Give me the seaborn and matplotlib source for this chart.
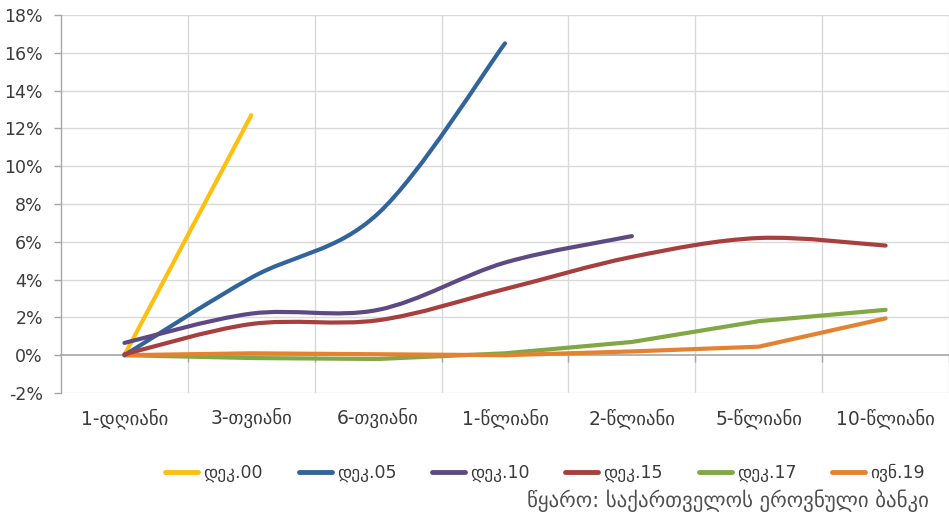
import numpy as np
import pandas as pd
import matplotlib
matplotlib.use("Agg")
import matplotlib.pyplot as plt
from matplotlib.path import Path
from matplotlib.patches import PathPatch
from matplotlib.lines import Line2D
import seaborn as sns

# Yield curve data (%), by maturity
maturities = ["1-დღიანი", "3-თვიანი", "6-თვიანი", "1-წლიანი", "2-წლიანი", "5-წლიანი", "10-წლიანი"]
dec00 = [0.0, 12.7]
dec05 = [0.0, 4.1, 7.5, 16.5]
dec10 = [0.65, 2.2, 2.4, 4.9, 6.3]
dec15 = [0.05, 1.65, 1.85, 3.5, 5.2, 6.2, 5.8]
dec17 = [0.0, -0.15, -0.2, 0.1, 0.7, 1.8, 2.4]
jun19 = [0.0, 0.1, 0.05, 0.0, 0.2, 0.45, 1.95]

series_names = ["დეკ.00", "დეკ.05", "დეკ.10", "დეკ.15", "დეკ.17", "ივნ.19"]
series_values = [dec00, dec05, dec10, dec15, dec17, jun19]
series_colors = ["#FDC010", "#31649B", "#5E4A82", "#A63F3E", "#82A845", "#E5822F"]
series_smooth = [True, True, True, True, False, False]

y_ticks = list(range(-2, 19, 2))
source_text = "წყარო: საქართველოს ეროვნული ბანკი"

sns.set_theme(style="white")
plt.rcParams["font.family"] = ["DejaVu Sans"]
text_color = "#3b3b3b"
grid_color = "#D9D9D9"
axis_color = "#A6A6A6"

fig = plt.figure(figsize=(9.49, 5.19), dpi=100)
ax = fig.add_axes([61 / 949, 1 - 393 / 519, 1 - 61 / 949, (393 - 15) / 519])


def smooth_path(xs, ys):
    """Cubic Bezier path through the points (Catmull-Rom style tangents)."""
    pts = np.column_stack([xs, ys]).astype(float)
    n = len(pts)
    verts = [pts[0]]
    codes = [Path.MOVETO]
    for i in range(n - 1):
        p0 = pts[i - 1] if i > 0 else pts[i]
        p1 = pts[i]
        p2 = pts[i + 1]
        p3 = pts[i + 2] if i + 2 < n else pts[i + 1]
        verts += [p1 + (p2 - p0) / 6, p2 - (p3 - p1) / 6, p2]
        codes += [Path.CURVE4] * 3
    return Path(verts, codes)


# Grid
for y in y_ticks:
    if y != 0:
        ax.axhline(y, color=grid_color, lw=1, zorder=0)
for xb in np.arange(0.5, len(maturities), 1.0):
    ax.axvline(xb, color=grid_color, lw=1, zorder=0)

# Straight-segment series drawn with seaborn
rows = []
for name, vals, smooth in zip(series_names, series_values, series_smooth):
    if not smooth:
        for i, v in enumerate(vals):
            rows.append({"series": name, "pos": i, "value": v})
df = pd.DataFrame(rows)
palette = {n: c for n, c in zip(series_names, series_colors)}
sns.lineplot(data=df, x="pos", y="value", hue="series", palette=palette,
             linewidth=3, legend=False, ax=ax, zorder=3,
             solid_capstyle="round", solid_joinstyle="round")

# Smoothed series
for name, vals, color, smooth in zip(series_names, series_values, series_colors, series_smooth):
    if smooth:
        xs = np.arange(len(vals))
        patch = PathPatch(smooth_path(xs, vals), fill=False, edgecolor=color,
                          lw=3, capstyle="round", joinstyle="round", zorder=3)
        ax.add_patch(patch)

ax.set_xlim(-0.5, len(maturities) - 0.5)
ax.set_ylim(-2, 18)

# Y axis
ax.set_yticks(y_ticks)
ax.set_yticklabels([f"{t}%" for t in y_ticks], fontsize=12.5, color=text_color)
ax.tick_params(axis="y", length=5, width=1, color=axis_color, pad=8, left=True)
ax.set_ylabel("")

# X axis: category labels below the plot, axis line on zero
ax.set_xticks(range(len(maturities)))
ax.set_xticklabels(maturities, fontsize=13.5, color=text_color)
ax.tick_params(axis="x", length=0, pad=11)
ax.set_xlabel("")

for side in ["top", "right", "bottom"]:
    ax.spines[side].set_visible(False)
ax.spines["left"].set_color(axis_color)
ax.spines["left"].set_linewidth(1)

zero_axis = ax.secondary_xaxis(2 / 20)
zero_axis.set_xticks(np.arange(0.5, len(maturities), 1.0))
zero_axis.set_xticklabels([])
zero_axis.tick_params(axis="x", length=5, width=1, color=axis_color, direction="out")
zero_axis.spines["bottom"].set_color(axis_color)
zero_axis.spines["bottom"].set_linewidth(1.2)

# Legend
handles = [Line2D([0], [0], color=c, lw=3.5, solid_capstyle="round") for c in series_colors]
fig.legend(handles, series_names, loc="center", bbox_to_anchor=(545 / 949, 1 - 473 / 519),
           ncol=6, frameon=False, fontsize=12.5, handlelength=1.9, handletextpad=0.3,
           columnspacing=2.05, labelcolor=text_color)

fig.text(527 / 949, 1 - 501 / 519, source_text, fontsize=15, color="#505050",
         ha="left", va="center")

fig.savefig("out.png", dpi=100)
